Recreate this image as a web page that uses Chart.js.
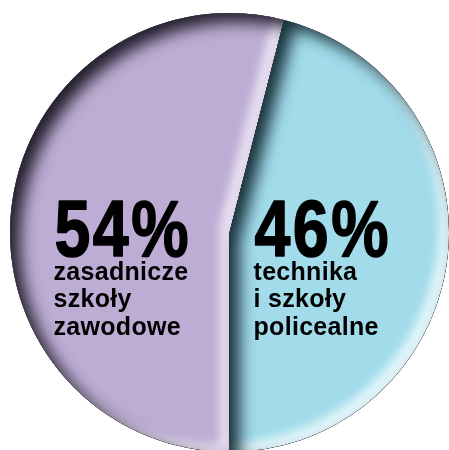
<!DOCTYPE html>
<html>
<head>
<meta charset="utf-8">
<script src="https://cdn.jsdelivr.net/npm/chart.js@4"></script>
<style>
  html, body { margin: 0; padding: 0; background: #fff; overflow: hidden; }
  body { width: 449px; height: 450px; position: relative; }
  #wrap { position: absolute; left: 10px; top: 13px; width: 439px; height: 439px; }
</style>
</head>
<body>
<div id="wrap"><canvas id="pie"></canvas></div>
<script>
// ── Data ──
const categories = ['zasadnicze szkoły zawodowe', 'technika i szkoły policealne'];
const labelLines = [['zasadnicze', 'szkoły', 'zawodowe'], ['technika', 'i szkoły', 'policealne']];
const shares     = [54, 46];
const colors     = ['#BDADD4', '#A2DCEB'];

// ── Inner shadow helper ──
function innerShadow(ctx, p, color, blur, dx, dy) {
  const big = p.outerRadius * 3;
  ctx.save();
  ctx.shadowColor   = color;
  ctx.shadowBlur    = blur;
  ctx.shadowOffsetX = dx;
  ctx.shadowOffsetY = dy;
  ctx.beginPath();
  ctx.rect(p.x - big, p.y - big, big * 2, big * 2);
  ctx.moveTo(p.x, p.y);
  ctx.arc(p.x, p.y, p.outerRadius, p.startAngle, p.endAngle);
  ctx.closePath();
  ctx.fillStyle = '#000';
  ctx.fill('evenodd');
  ctx.restore();
}

const darkTone  = ['rgba(34,30,44,1)', 'rgba(24,50,60,1)'];
const lightTone = ['rgba(232,224,242,1)', 'rgba(228,246,250,0.95)'];

const shading = {
  id: 'shading',
  afterDatasetsDraw(chart) {
    const ctx = chart.ctx;
    chart.getDatasetMeta(0).data.forEach((arc, i) => {
      const p = arc.getProps(['x', 'y', 'startAngle', 'endAngle', 'outerRadius'], true);
      ctx.save();
      ctx.beginPath();
      ctx.moveTo(p.x, p.y);
      ctx.arc(p.x, p.y, p.outerRadius, p.startAngle, p.endAngle);
      ctx.closePath();
      ctx.clip();
      innerShadow(ctx, p, lightTone[i], 8, -10, -8);
      innerShadow(ctx, p, darkTone[i], 16, 10, 9);
      ctx.restore();
    });
  }
};

// ── Labels ──
const sliceLabels = {
  id: 'sliceLabels',
  afterDraw(chart) {
    const ctx  = chart.ctx;
    const arcs = chart.getDatasetMeta(0).data;
    const offX = [-176, 24];
    arcs.forEach((arc, i) => {
      const p = arc.getProps(['x', 'y'], true);
      const x = p.x + offX[i];
      let y = p.y + 23;
      ctx.save();
      ctx.fillStyle = '#000';
      ctx.strokeStyle = '#000';
      ctx.lineWidth = 1.6;
      ctx.lineJoin = 'round';
      ctx.textAlign = 'left';
      ctx.textBaseline = 'alphabetic';
      ctx.font = 'bold 79px "Liberation Sans", Arial, sans-serif';
      ctx.letterSpacing = '3px';
      const txt = shares[i] + '%';
      const sx = 134 / (ctx.measureText(txt).width - 3);
      ctx.save();
      ctx.translate(x + 1, y);
      ctx.scale(sx, 1);
      ctx.fillText(txt, 0, 0);
      ctx.strokeText(txt, 0, 0);
      ctx.restore();
      ctx.font = 'bold 25px "Liberation Sans", Arial, sans-serif';
      ctx.letterSpacing = '0.3px';
      y += 24;
      labelLines[i].forEach(line => {
        ctx.fillText(line, x, y);
        y += 27.5;
      });
      ctx.restore();
    });
  }
};

new Chart(document.getElementById('pie'), {
  type: 'pie',
  data: {
    labels: categories,
    datasets: [{
      data: shares,
      backgroundColor: colors,
      borderWidth: 0,
    }],
  },
  options: {
    responsive: true, maintainAspectRatio: false,
    animation: false,
    rotation: 180,
    layout: { padding: 0 },
    plugins: { legend: { display: false }, tooltip: { enabled: false } },
  },
  plugins: [shading, sliceLabels],
});
</script>
</body>
</html>
